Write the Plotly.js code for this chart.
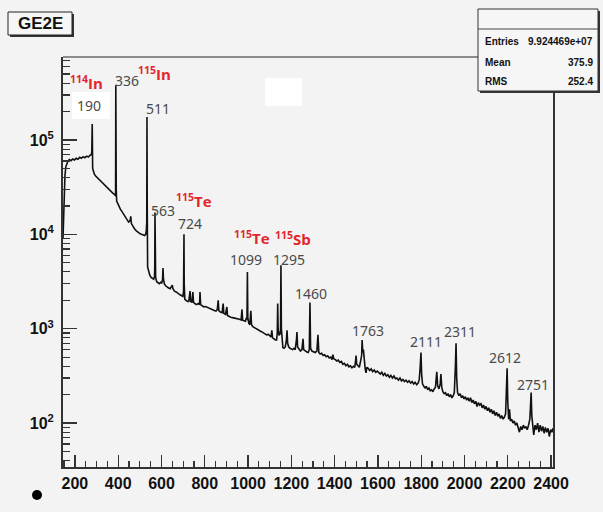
<!DOCTYPE html>
<html>
<head>
<meta charset="utf-8">
<script src="https://cdn.plot.ly/plotly-3.0.1.min.js"></script>
<style>html,body{margin:0;padding:0;background:#f3f3f3;}#chart{width:603px;height:512px;}</style>
</head>
<body>
<div id="chart"></div>
<script>
// Spectrum (channel, counts)
const chan = [145,147,149,151,154,158,163,168,175,182,190,198,206,214,222,230,238,246,254,262,270,276,278,280,281,282,285,290,296,303,310,318,326,334,342,350,358,366,374,382,386,388,389,390,391,393,398,404,410,417,424,432,440,448,455,458,461,468,476,484,492,500,508,516,522,527,530,532,533,534,536,540,546,552,558,564,568,569,570,571,573,578,584,590,596,601,605,607,609,613,619,626,633,640,646,650,653,660,668,676,684,692,699,702,704,705,708,714,720,726,732,735,741,745,748,754,762,770,776,778,781,788,796,804,812,820,828,836,844,852,858,862,865,872,880,885,888,896,902,905,912,920,928,936,944,952,960,968,972,975,982,988,992,995,997,999,1003,1008,1013,1016,1022,1030,1038,1046,1054,1062,1070,1078,1086,1094,1101,1106,1110,1113,1120,1126,1132,1135,1137,1139,1143,1148,1150,1152,1154,1157,1161,1166,1172,1177,1180,1183,1188,1194,1200,1206,1212,1218,1224,1226,1229,1236,1242,1249,1254,1257,1263,1270,1278,1283,1286,1289,1295,1302,1310,1318,1323,1327,1333,1340,1347,1354,1361,1368,1375,1382,1388,1392,1396,1403,1410,1417,1424,1431,1438,1445,1452,1459,1466,1473,1480,1487,1493,1497,1499,1502,1508,1514,1518,1522,1525,1527,1530,1533,1537,1541,1545,1549,1555,1562,1569,1576,1583,1590,1597,1604,1611,1618,1625,1632,1639,1646,1653,1660,1667,1674,1681,1688,1695,1702,1709,1716,1723,1730,1737,1744,1751,1758,1765,1772,1779,1786,1791,1795,1799,1802,1806,1812,1818,1824,1830,1836,1842,1848,1854,1860,1866,1872,1876,1882,1888,1891,1895,1900,1906,1912,1918,1924,1930,1936,1942,1948,1953,1958,1961,1964,1968,1974,1980,1986,1992,1998,2004,2010,2016,2022,2028,2034,2040,2046,2052,2058,2064,2070,2076,2082,2088,2094,2100,2106,2112,2118,2124,2130,2136,2142,2148,2154,2160,2166,2172,2178,2184,2190,2194,2197,2200,2204,2208,2212,2218,2224,2230,2236,2242,2248,2254,2260,2266,2272,2278,2284,2290,2296,2302,2305,2308,2311,2315,2320,2326,2332,2338,2344,2350,2356,2362,2368,2374,2380,2386,2392,2398,2404,2409];
const counts = [9000,13000,20000,30000,42000,52000,58000,60000,62000,60500,63000,61500,64000,62500,65500,64000,66500,65000,67500,66000,69000,70000,75000,148000,90000,50000,46000,43500,41500,40000,38500,37000,35000,33500,32000,30500,29500,28500,27500,26500,26000,27000,380000,250000,30000,22500,21000,19500,18500,17500,16500,15200,14200,13500,14000,15500,13000,12000,11400,10900,10500,10200,10000,9800,9700,10000,11000,13500,175000,25000,4500,4000,3700,3500,3400,3350,3600,4500,17000,5500,3500,3150,3050,3000,3100,3050,3300,4400,3400,3000,2850,2750,2700,2650,2750,2900,2650,2500,2450,2350,2300,2250,2200,2500,10000,3000,2050,2000,1950,1950,2500,1950,1900,2450,1900,1850,1800,1850,1800,2450,1800,1750,1700,1720,1680,1650,1620,1580,1560,1540,1600,2000,1550,1500,1480,1850,1460,1420,1700,1380,1340,1320,1310,1300,1300,1280,1260,1240,1600,1230,1220,1200,1300,1250,4000,1300,1150,1100,1550,1100,1050,1020,1000,980,950,930,900,880,860,870,840,820,960,800,780,760,760,900,1850,1000,850,880,950,4700,1000,680,630,620,640,750,960,700,640,620,610,600,620,600,780,920,640,600,580,600,780,600,580,570,560,600,1900,620,580,570,560,580,860,560,540,550,520,530,505,515,490,500,470,530,480,470,455,465,440,450,420,430,405,420,395,405,385,400,390,460,520,420,400,390,430,480,520,760,560,600,430,380,340,390,380,360,375,350,365,345,355,340,330,345,320,335,315,325,305,320,300,315,295,300,285,300,280,290,275,285,270,280,265,275,260,270,255,265,290,380,560,330,260,245,235,245,225,235,220,225,215,230,240,350,250,230,260,330,240,215,205,210,195,205,190,200,185,195,210,400,700,300,210,195,205,185,195,180,190,175,185,170,185,165,175,160,170,150,165,155,160,145,155,140,150,135,145,130,140,125,135,120,130,118,125,112,120,110,115,125,220,380,170,110,140,105,110,100,105,95,100,90,80,92,85,95,88,92,85,95,110,150,210,120,90,75,95,85,100,80,95,82,92,78,90,80,88,72,85,80,88];

// Axis ticks
const xTickVals = [200,400,600,800,1000,1200,1400,1600,1800,2000,2200,2400];
const yTickVals = [100,1000,10000,100000];
const yTickText = ['10<sup>2</sup>','10<sup>3</sup>','10<sup>4</sup>','10<sup>5</sup>'];

// Peak labels (energies, keV) and isotope labels
const peakLabels = ['190','336','511','563','724','1099','1295','1460','1763','2111','2311','2612','2751'];
const isoLabels = ['114','115','115','115','115'];
const isoNames = ['In','In','Te','Te','Sb'];

// Stats box
const statNames = ['Entries','Mean','RMS'];
const statValues = ['9.924469e+07','375.9','252.4'];
const histTitle = 'GE2E';

// ---- layout helpers (pixel -> paper) ----
const L = 63, R = 553, T = 57, B = 467;
const px = x => (x - L) / (R - L);
const py = y => (B - y) / (B - T);

const minorY = [];
for (let e = 1; e <= 5; e++) for (let m = 2; m <= 9; m++) minorY.push(m * Math.pow(10, e));

const peakPos = [[89,105],[127,80],[158,108],[163,210],[190,223],[246,259],[289,259],[311,293],[368,331],[426,341],[460,332],[505,357],[533,384]];
const isoPos = [[86,82],[154,73],[194,200],[252,238],[293,239]];

const annotations = [];
peakLabels.forEach((t, i) => annotations.push({
  text: t, xref: 'paper', yref: 'paper', x: px(peakPos[i][0]), y: py(peakPos[i][1]),
  xanchor: 'center', yanchor: 'middle', showarrow: false,
  font: {family: 'Noto Sans, Open Sans, sans-serif', size: 14, color: '#4a4a4a'}
}));
isoLabels.forEach((t, i) => annotations.push({
  text: '<sup>' + t + '</sup>' + isoNames[i], xref: 'paper', yref: 'paper',
  x: px(isoPos[i][0]), y: py(isoPos[i][1]), xanchor: 'center', yanchor: 'middle', showarrow: false,
  font: {family: 'Open Sans, Noto Sans, sans-serif', size: 15, color: '#e3262d', weight: 'bold'}
}));
const statRowsY = [42, 62, 81];
statNames.forEach((t, i) => {
  annotations.push({text: t, xref: 'paper', yref: 'paper', x: px(483), y: py(statRowsY[i]),
    xanchor: 'left', yanchor: 'middle', showarrow: false,
    font: {family: 'Liberation Sans, Arial, sans-serif', size: 10, color: '#111', weight: 'bold'}});
  annotations.push({text: statValues[i], xref: 'paper', yref: 'paper', x: px(595), y: py(statRowsY[i]),
    xanchor: 'right', yanchor: 'middle', showarrow: false,
    font: {family: 'Liberation Sans, Arial, sans-serif', size: 10, color: '#111', weight: 'bold'}});
});
annotations.push({text: histTitle, xref: 'paper', yref: 'paper', x: px(40), y: py(24),
  xanchor: 'center', yanchor: 'middle', showarrow: false,
  font: {family: 'Liberation Sans, Arial, sans-serif', size: 17, color: '#111', weight: 'bold'}});

const rect = (x0, y0, x1, y1, fill, lc, lw) => ({type: 'rect', xref: 'paper', yref: 'paper',
  x0: px(x0), x1: px(x1), y0: py(y1), y1: py(y0), fillcolor: fill, line: {color: lc, width: lw}, layer: 'above'});

const shapes = [
  // top frame (lighter)
  {type: 'line', xref: 'paper', yref: 'paper', x0: 0, x1: 1, y0: 1, y1: 1, line: {color: '#8c8c8c', width: 2}, layer: 'above'},
  // white boxes
  rect(72, 92, 110, 119, '#ffffff', 'rgba(0,0,0,0)', 0),
  rect(265, 78, 302, 106, '#ffffff', 'rgba(0,0,0,0)', 0),
  // title box shadow + box
  rect(10, 14, 74, 37, '#333333', '#333333', 0),
  rect(8, 12, 72, 35, '#f6f6f6', '#222222', 1),
  // stats box shadow + box
  rect(480, 11, 600, 93, '#333333', '#333333', 0),
  rect(478, 9, 598, 91, '#f6f6f6', '#333333', 1),
  {type: 'line', xref: 'paper', yref: 'paper', x0: px(478), x1: px(598), y0: py(29), y1: py(29), line: {color: '#444', width: 1}, layer: 'above'},
  // bullet
  {type: 'circle', xref: 'paper', yref: 'paper', x0: px(32), x1: px(42), y0: py(500), y1: py(490), fillcolor: '#000', line: {color: '#000', width: 0}, layer: 'above'}
];

const trace = {x: chan, y: counts, type: 'scatter', mode: 'lines',
  line: {color: '#111', width: 1.6}, hoverinfo: 'skip'};

const layout = {
  width: 603, height: 512,
  margin: {l: L, r: 603 - R, t: T, b: 512 - B, pad: 0},
  paper_bgcolor: '#f3f3f3', plot_bgcolor: '#f3f3f3',
  showlegend: false,
  xaxis: {
    range: [145, 2409], tickmode: 'array', tickvals: xTickVals,
    ticks: 'inside', ticklen: 12, tickwidth: 1.3, tickcolor: '#333',
    showline: true, linecolor: '#333', linewidth: 2, mirror: false,
    showgrid: false, zeroline: false, ticklabelstandoff: 1,
    tickfont: {family: 'Liberation Sans, Arial, sans-serif', size: 16, color: '#111', weight: 'bold'},
    minor: {dtick: 50, tick0: 0, ticks: 'inside', ticklen: 6, tickwidth: 1.2, tickcolor: '#333', showgrid: false}
  },
  yaxis: {
    type: 'log', range: [1.534, 5.88], tickmode: 'array', tickvals: yTickVals, ticktext: yTickText,
    ticks: 'inside', ticklen: 14, tickwidth: 1.3, tickcolor: '#333',
    showline: true, linecolor: '#333', linewidth: 2, mirror: true,
    showgrid: false, zeroline: false, ticklabelstandoff: 4,
    tickfont: {family: 'Liberation Sans, Arial, sans-serif', size: 16, color: '#111', weight: 'bold'},
    minor: {tickmode: 'array', tickvals: minorY, ticks: 'inside', ticklen: 7, tickwidth: 1.2, tickcolor: '#333', showgrid: false}
  },
  annotations: annotations,
  shapes: shapes
};

Plotly.newPlot('chart', [trace], layout, {staticPlot: true, displayModeBar: false});
</script>
</body>
</html>
